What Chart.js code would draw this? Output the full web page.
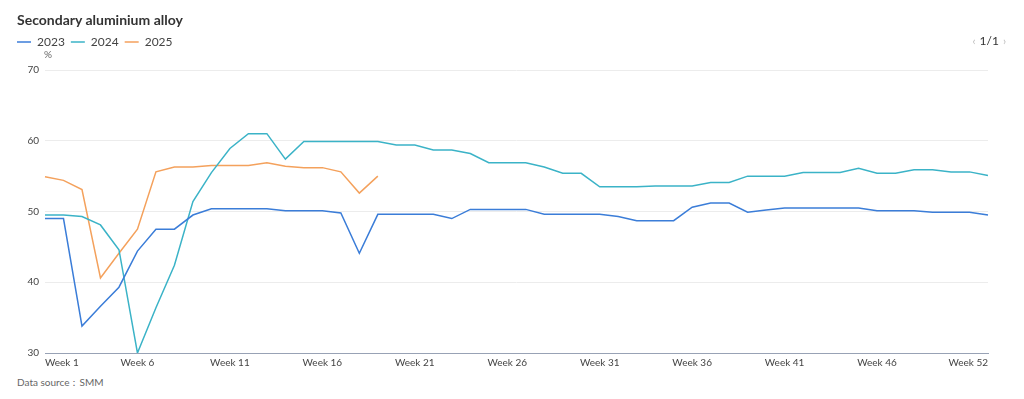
<!DOCTYPE html>
<html>
<head>
<meta charset="utf-8">
<script src="https://cdn.jsdelivr.net/npm/chart.js@4/dist/chart.umd.min.js"></script>
<style>
  html, body { margin: 0; padding: 0; background: #fff; }
  body { width: 1024px; height: 399px; position: relative; overflow: hidden;
         font-family: Lato, "Noto Sans", sans-serif; }
  #title { position: absolute; left: 17px; top: 11px; font-size: 14px; font-weight: bold; color: #333; }
  #wrap { position: absolute; left: 0; top: 0; width: 1024px; height: 373px; }
  #pager { position: absolute; right: 14px; top: 33px; font-size: 12px; color: #333; }
  #pager span { color: #bbb; font-size: 11px; margin: 0 4px; }
  #source { position: absolute; left: 17px; top: 376px; font-size: 10px; color: #666; }
</style>
</head>
<body>
<div id="wrap"><canvas id="chart"></canvas></div>
<div id="title">Secondary aluminium alloy</div>
<div id="pager"><span>&#8249;</span>1/1<span>&#8250;</span></div>
<div id="source">Data source：SMM</div>
<script>
// weekly operating rate, %
const weeks = Array.from({length: 52}, (_, i) => 'Week ' + (i + 1));

const y2023 = [49.0, 49.0, 33.8, 36.6, 39.3, 44.4, 47.5, 47.5, 49.5, 50.4,
               50.4, 50.4, 50.4, 50.1, 50.1, 50.1, 49.8, 44.1, 49.6, 49.6,
               49.6, 49.6, 49.0, 50.3, 50.3, 50.3, 50.3, 49.6, 49.6, 49.6,
               49.6, 49.3, 48.7, 48.7, 48.7, 50.6, 51.2, 51.2, 49.9, 50.2,
               50.5, 50.5, 50.5, 50.5, 50.5, 50.1, 50.1, 50.1, 49.9, 49.9,
               49.9, 49.5];

const y2024 = [49.5, 49.5, 49.3, 48.1, 44.6, 30.0, 36.4, 42.4, 51.4, 55.5,
               58.9, 61.0, 61.0, 57.4, 59.9, 59.9, 59.9, 59.9, 59.9, 59.4,
               59.4, 58.7, 58.7, 58.2, 56.9, 56.9, 56.9, 56.3, 55.4, 55.4,
               53.5, 53.5, 53.5, 53.6, 53.6, 53.6, 54.1, 54.1, 55.0, 55.0,
               55.0, 55.5, 55.5, 55.5, 56.1, 55.4, 55.4, 55.9, 55.9, 55.6,
               55.6, 55.1];

const y2025 = [54.9, 54.4, 53.1, 40.6, 44.1, 47.5, 55.6, 56.3, 56.3, 56.5,
               56.5, 56.5, 56.9, 56.4, 56.2, 56.2, 55.6, 52.6, 55.0];

const yTicks = [30, 40, 50, 60, 70];
const shownWeeks = [0, 5, 10, 15, 20, 25, 30, 35, 40, 45, 51];

const seriesNames = ['2023', '2024', '2025'];
const seriesColors = ['#3b7dd8', '#3bb3c7', '#f4a15c'];

const unitLabel = {
  id: 'unitLabel',
  afterDraw(chart) {
    const { ctx, chartArea } = chart;
    ctx.save();
    ctx.font = '10px Lato, sans-serif';
    ctx.fillStyle = '#666';
    ctx.textAlign = 'center';
    ctx.textBaseline = 'middle';
    ctx.fillText('%', chartArea.left + 3, chartArea.top - 15);
    ctx.restore();
  }
};

// extra room between legend and plot
const legendGap = {
  id: 'legendGap',
  beforeInit(chart) {
    const fit = chart.legend.fit;
    chart.legend.fit = function () { fit.call(this); this.height += 12; };
  }
};

new Chart(document.getElementById('chart'), {
  type: 'line',
  data: {
    labels: weeks,
    datasets: [y2023, y2024, y2025].map((d, i) => ({
      label: seriesNames[i],
      data: d,
      borderColor: seriesColors[i],
      backgroundColor: seriesColors[i],
      borderWidth: 1.5,
      pointRadius: 0,
      tension: 0,
      fill: false
    }))
  },
  options: {
    responsive: true,
    maintainAspectRatio: false,
    animation: false,
    layout: { padding: { left: 11, right: 36, top: 30, bottom: 0 } },
    plugins: {
      legend: {
        align: 'start',
        labels: {
          usePointStyle: true,
          pointStyle: 'line',
          pointStyleWidth: 14,
          boxHeight: 12,
          padding: 6,
          color: '#444',
          font: { size: 12, family: 'Lato, sans-serif' }
        }
      },
      tooltip: { enabled: false }
    },
    scales: {
      x: {
        grid: { display: false, drawTicks: false },
        border: { color: '#98a2b5', width: 1 },
        ticks: {
          autoSkip: false,
          maxRotation: 0,
          align: 'inner',
          padding: 4,
          color: '#444',
          font: { size: 10, family: 'Lato, sans-serif' },
          callback: (v, i) => shownWeeks.includes(i) ? weeks[i] : ''
        }
      },
      y: {
        min: yTicks[0],
        max: yTicks[yTicks.length - 1],
        afterBuildTicks: (s) => { s.ticks = yTicks.map(v => ({ value: v })); },
        afterFit: (s) => { s.width = 34; },
        grid: { color: '#ececec', drawTicks: false },
        border: { display: false },
        ticks: {
          padding: 6,
          color: '#444',
          font: { size: 10, family: 'Lato, sans-serif' }
        }
      }
    }
  },
  plugins: [unitLabel, legendGap]
});
</script>
</body>
</html>
